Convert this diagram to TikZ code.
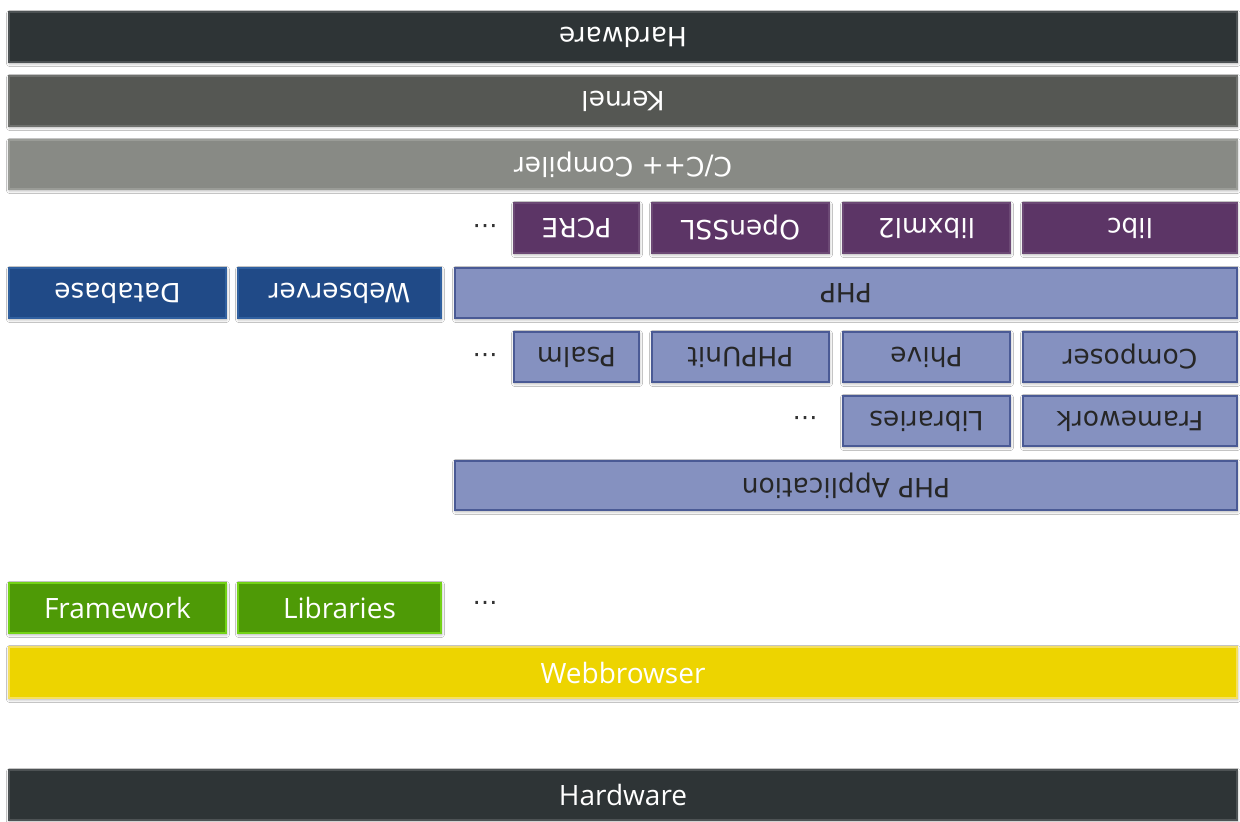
\documentclass[tikz,border=0pt]{standalone}
\usepackage{fontspec}
\setmainfont{Open Sans}
\newfontfamily\upfont{DejaVu Sans}
\usetikzlibrary{shadows.blur}
\definecolor{hwc}{HTML}{2E3436}
\definecolor{kerc}{HTML}{555753}
\definecolor{cmpc}{HTML}{888A85}
\definecolor{plum}{HTML}{5C3566}
\definecolor{lav}{HTML}{8591C0}
\definecolor{lavb}{HTML}{4A5A95}
\definecolor{navy}{HTML}{204A87}
\definecolor{navyb}{HTML}{3060A0}
\definecolor{grn}{HTML}{4E9A06}
\definecolor{grnb}{HTML}{73D216}
\definecolor{ylw}{HTML}{EDD400}
\definecolor{ylwb}{HTML}{F5E060}
\tikzset{
  layer/.style={rectangle, inner sep=0pt, outer sep=0pt, line width=1.5pt,
    blur shadow={shadow blur steps=6, shadow xshift=0.5pt, shadow yshift=-1.5pt, shadow opacity=35, shadow blur radius=3pt}},
  up/.style={layer, rotate=180, font=\upfont\fontsize{26.5}{30}\selectfont},
  down/.style={layer, font=\fontsize{28}{32}\selectfont, text=white},
  graybar/.style={up, text=white},
  plumbox/.style={up, fill=plum, draw=plum!90!white, text=white},
  lavbox/.style={up, fill=lav, draw=lavb, text=black!85},
  navybox/.style={up, fill=navy, draw=navyb, text=white},
  dotsup/.style={rotate=180, anchor=base, inner sep=0pt, font=\upfont\fontsize{25}{28}\selectfont, text=black!80},
  dotsdown/.style={anchor=base, inner sep=0pt, font=\upfont\fontsize{25}{28}\selectfont, text=black!80},
}
\begin{document}
\begin{tikzpicture}[x=1pt,y=-1pt]
\useasboundingbox[fill=white] (0,0) rectangle (1240,822);
% upside-down stack
\node[graybar, fill=hwc, draw=hwc!85!white, minimum width=1228pt, minimum height=50pt] (hw1) at (623,37) {Hardware};
\node[graybar, fill=kerc, draw=kerc!85!white, minimum width=1228pt, minimum height=50pt] (kernel) at (623,101) {Kernel};
\node[graybar, fill=cmpc, draw=cmpc!85!white, minimum width=1228pt, minimum height=49pt] (cc) at (623,164.5) {C/C++ Compiler};
% libraries (purple)
\node[plumbox, minimum width=125pt, minimum height=50pt] (pcre) at (576.5,228) {PCRE};
\node[plumbox, minimum width=177pt, minimum height=50pt] (openssl) at (740.5,228) {OpenSSL};
\node[plumbox, minimum width=167pt, minimum height=50pt] (libxml) at (926.5,228) {libxml2};
\node[plumbox, minimum width=214pt, minimum height=50pt] (libc) at (1130,228) {libc};
\node[dotsup] (d1) at (485,224) {…};
% PHP row
\node[lavbox, minimum width=782pt, minimum height=50pt] (php) at (846,293) {PHP};
\node[navybox, minimum width=203pt, minimum height=50pt] (websrv) at (339.5,293) {Webserver};
\node[navybox, minimum width=217pt, minimum height=50pt] (db) at (117.5,293) {Database};
% tools
\node[lavbox, minimum width=125pt, minimum height=50pt] (psalm) at (576.5,357) {Psalm};
\node[lavbox, minimum width=177pt, minimum height=50pt] (phpunit) at (740.5,357) {PHPUnit};
\node[lavbox, minimum width=167pt, minimum height=50pt] (phive) at (926.5,357) {Phive};
\node[lavbox, minimum width=214pt, minimum height=50pt] (composer) at (1130,357) {Composer};
\node[dotsup] (d2) at (485,353) {…};
% framework / libraries
\node[lavbox, minimum width=167pt, minimum height=50pt] (libs1) at (926.5,421) {Libraries};
\node[lavbox, minimum width=214pt, minimum height=50pt] (fw1) at (1130,421) {Framework};
\node[dotsup] (d3) at (805,416) {…};
\node[lavbox, minimum width=782pt, minimum height=49pt] (phpapp) at (846,485.5) {PHP Application};
% browser side
\node[down, fill=grn, draw=grnb, minimum width=217pt, minimum height=50pt] (fw2) at (117.5,608) {Framework};
\node[down, fill=grn, draw=grnb, minimum width=203pt, minimum height=50pt] (libs2) at (339.5,608) {Libraries};
\node[dotsdown] (d4) at (485,604) {…};
\node[down, fill=ylw, draw=ylwb, minimum width=1228pt, minimum height=51pt] (browser) at (623,672.5) {Webbrowser};
\node[down, fill=hwc, draw=hwc!85!white, minimum width=1228pt, minimum height=50pt] (hw2) at (623,795) {Hardware};
\end{tikzpicture}
\end{document}
